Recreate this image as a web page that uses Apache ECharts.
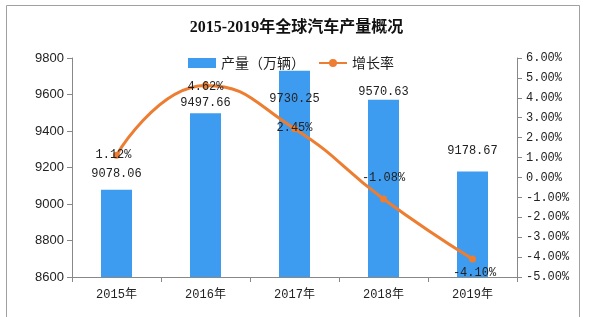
<!DOCTYPE html>
<html><head><meta charset="utf-8">
<script src="https://cdn.jsdelivr.net/npm/echarts@6/dist/echarts.min.js"></script>
<style>html,body{margin:0;padding:0;background:#fff}#c{width:593px;height:317px}</style>
</head><body><div id="c"></div>
<script>
var categories = ['2015年','2016年','2017年','2018年','2019年'];
var production = [9078.06, 9497.66, 9730.25, 9570.63, 9178.67];
var growth = [1.12, 4.62, 2.45, -1.08, -4.10];
var leftTicks = [8600, 9800, 200];
var rightTicks = [-5, 6, 1];

var mono = '"Liberation Mono","Noto Sans CJK SC",monospace';
var chart = echarts.init(document.getElementById('c'));

var barLabelCfg = [
  {position:'top', distance:10},
  {position:'top', distance:4},
  {position:'insideTop', distance:22},
  {position:'top', distance:2},
  {position:'top', distance:15}
];
var lineLabelCfg = [
  {position:'inside', offset:[-3,0]},
  {position:'inside', offset:[0,1]},
  {position:'inside', offset:[0,-1]},
  {position:'inside', offset:[0,-21]},
  {position:'inside', offset:[2,14]}
];

var barData = production.map(function(v,i){
  return {value:v, label:barLabelCfg[i]};
});
var lineData = growth.map(function(v,i){
  return {value:v, label:lineLabelCfg[i]};
});

chart.setOption({
  backgroundColor:'#fff',
  animation:false,
  graphic:[{type:'rect', shape:{x:6.5,y:5.5,width:573,height:330}, style:{fill:'none', stroke:'#a0a0a0', lineWidth:1}, z:-1}],
  title:{text:'2015-2019年全球汽车产量概况', left:'center', top:15,
    textStyle:{fontSize:16, fontWeight:'bold', color:'#111', fontFamily:'"Liberation Serif","Noto Sans CJK SC",serif'}},
  legend:{top:51, left:183, itemGap:13, itemWidth:28, itemHeight:10,
    textStyle:{fontSize:14, color:'#222', fontFamily:'"Noto Sans CJK SC",sans-serif'},
    data:[{name:'产量（万辆）', icon:'rect'},{name:'增长率'}]},
  grid:{left:72, right:76, top:58, bottom:40},
  xAxis:{type:'category', data:categories,
    axisLine:{onZero:false, lineStyle:{color:'#888'}},
    axisTick:{show:true, alignWithLabel:false, length:5, lineStyle:{color:'#888'}},
    axisLabel:{fontSize:12, color:'#222', fontFamily:mono, margin:12}},
  yAxis:[{type:'value', min:leftTicks[0], max:leftTicks[1], interval:leftTicks[2],
      splitLine:{show:false},
      axisLine:{show:true, lineStyle:{color:'#888'}},
      axisTick:{show:true, length:5, lineStyle:{color:'#888'}},
      axisLabel:{fontSize:13, color:'#222', fontFamily:'"Liberation Sans",Arial,sans-serif', margin:8,
        formatter:function(v){return String(v);}}},
    {type:'value', min:rightTicks[0], max:rightTicks[1], interval:rightTicks[2], position:'right',
      splitLine:{show:false},
      axisLine:{show:true, lineStyle:{color:'#888'}},
      axisTick:{show:true, length:5, lineStyle:{color:'#888'}},
      axisLabel:{fontSize:12, color:'#222', fontFamily:mono, margin:9,
        formatter:function(v){return v.toFixed(2)+'%';}}}],
  series:[
    {name:'产量（万辆）', type:'bar', data:barData, barWidth:31,
      itemStyle:{color:'#3e9cf0'},
      label:{show:true, fontSize:12, color:'#222', fontFamily:mono,
        formatter:function(p){return p.value.toFixed(2);}}},
    {name:'增长率', type:'line', yAxisIndex:1, data:lineData, smooth:0.5,
      symbol:'circle', symbolSize:7,
      lineStyle:{color:'#ed7d31', width:3}, itemStyle:{color:'#ed7d31'},
      label:{show:true, fontSize:12, color:'#222', fontFamily:mono,
        formatter:function(p){return p.value.toFixed(2)+'%';}}, z:3}
  ]
});
</script></body></html>
